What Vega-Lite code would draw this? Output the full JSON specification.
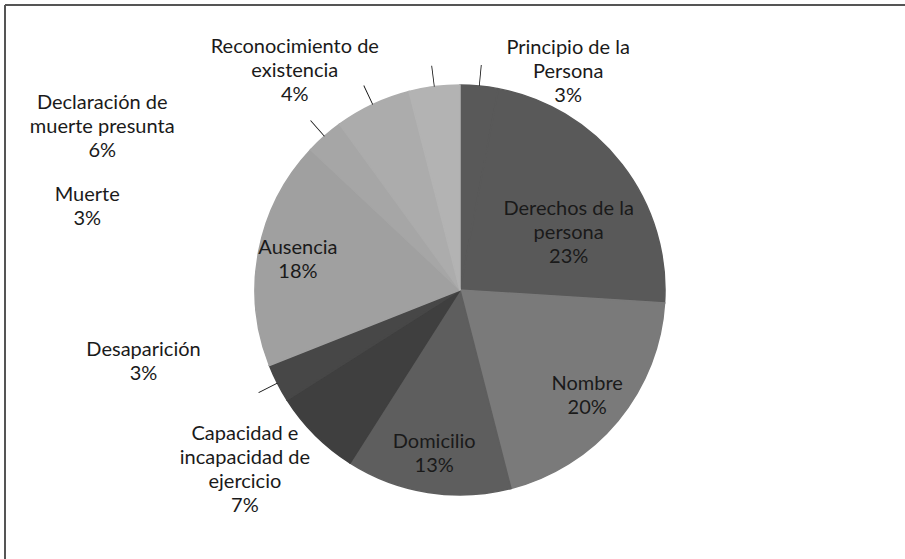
{
  "$schema": "https://vega.github.io/schema/vega-lite/v6.json",
  "width": 910,
  "height": 570,
  "autosize": {"type": "none"},
  "padding": {"left": 5, "top": 5, "right": -10, "bottom": -16},
  "background": "white",
  "config": {"view": {"stroke": null}, "text": {"font": "Lato", "fontSize": 20, "lineHeight": 24, "color": "#1a1a1a"}},
  "data": {
    "values": [
      {"order": 1, "category": "Principio de la Persona", "label": "Principio de la\nPersona", "value": 3},
      {"order": 2, "category": "Derechos de la persona", "label": "Derechos de la\npersona", "value": 23},
      {"order": 3, "category": "Nombre", "label": "Nombre", "value": 20},
      {"order": 4, "category": "Domicilio", "label": "Domicilio", "value": 13},
      {"order": 5, "category": "Capacidad e incapacidad de ejercicio", "label": "Capacidad e\nincapacidad de\nejercicio", "value": 7},
      {"order": 6, "category": "Desaparición", "label": "Desaparición", "value": 3},
      {"order": 7, "category": "Ausencia", "label": "Ausencia", "value": 18},
      {"order": 8, "category": "Muerte", "label": "Muerte", "value": 3},
      {"order": 9, "category": "Declaración de muerte presunta", "label": "Declaración de\nmuerte presunta", "value": 6},
      {"order": 10, "category": "Reconocimiento de existencia", "label": "Reconocimiento de\nexistencia", "value": 4}
    ]
  },
  "transform": [
    {"calculate": "datum.label + '\\n' + datum.value + '%'", "as": "text"}
  ],
  "layer": [
    {
      "data": {"values": [{"frame": 1}]},
      "mark": {"type": "rect", "fill": "white", "stroke": "#555555", "strokeWidth": 2, "strokeDash": [910, 1480, 570, 0]},
      "encoding": {}
    },
    {
      "mark": {"type": "arc", "outerRadius": 205, "strokeWidth": 1.5},
      "encoding": {
        "theta": {"field": "value", "type": "quantitative", "stack": true, "scale": {"domain": [0, 100]}},
        "order": {"field": "order", "type": "quantitative"},
        "color": {
          "field": "category", "type": "nominal", "legend": null,
          "scale": {
            "domain": ["Principio de la Persona", "Derechos de la persona", "Nombre", "Domicilio", "Capacidad e incapacidad de ejercicio", "Desaparición", "Ausencia", "Muerte", "Declaración de muerte presunta", "Reconocimiento de existencia"],
            "range": ["#595959", "#595959", "#7a7a7a", "#5e5e5e", "#3f3f3f", "#474747", "#a0a0a0", "#a6a6a6", "#acacac", "#b3b3b3"]
          }
        },
        "stroke": {"field": "category", "type": "nominal", "legend": null,
          "scale": {
            "domain": ["Principio de la Persona", "Derechos de la persona", "Nombre", "Domicilio", "Capacidad e incapacidad de ejercicio", "Desaparición", "Ausencia", "Muerte", "Declaración de muerte presunta", "Reconocimiento de existencia"],
            "range": ["#595959", "#595959", "#7a7a7a", "#5e5e5e", "#3f3f3f", "#474747", "#a0a0a0", "#a6a6a6", "#acacac", "#b3b3b3"]
          }
        }
      }
    },
    {
      "transform": [
        {"window": [{"op": "sum", "field": "value", "as": "cum"}], "sort": [{"field": "order"}]},
        {"filter": "indexof(['Principio de la Persona','Reconocimiento de existencia','Declaración de muerte presunta','Muerte','Desaparición'], datum.category) >= 0"},
        {"calculate": "datum.cum - datum.value / 2 - 0.03", "as": "t1"},
        {"calculate": "datum.cum - datum.value / 2 + 0.03", "as": "t2"}
      ],
      "mark": {"type": "arc", "innerRadius": 205, "outerRadius": 226, "fill": "#111111"},
      "encoding": {
        "theta": {"field": "t1", "type": "quantitative", "scale": {"domain": [0, 100]}},
        "theta2": {"field": "t2"}
      }
    },
    {
      "transform": [{"calculate": "indexof(['Nombre','Domicilio','Ausencia'], datum.category) >= 0 ? datum.text : ''", "as": "t"}],
      "mark": {"type": "text", "radius": 165, "dy": -11, "align": "center", "baseline": "middle", "lineBreak": "\n"},
      "encoding": {
        "theta": {"field": "value", "type": "quantitative", "stack": true},
        "order": {"field": "order", "type": "quantitative"},
        "text": {"field": "t"}
      }
    },
    {
      "transform": [{"calculate": "datum.category === 'Derechos de la persona' ? datum.text : ''", "as": "t"}],
      "mark": {"type": "text", "radius": 135, "dx": 2, "dy": 2, "align": "center", "baseline": "middle", "lineBreak": "\n"},
      "encoding": {
        "theta": {"field": "value", "type": "quantitative", "stack": true},
        "order": {"field": "order", "type": "quantitative"},
        "text": {"field": "t"}
      }
    },
    {
      "transform": [{"calculate": "datum.category === 'Principio de la Persona' ? datum.text : ''", "as": "t"}],
      "mark": {"type": "text", "radius": 225, "dx": 87, "dy": -18, "align": "center", "baseline": "middle", "lineBreak": "\n"},
      "encoding": {
        "theta": {"field": "value", "type": "quantitative", "stack": true},
        "order": {"field": "order", "type": "quantitative"},
        "text": {"field": "t"}
      }
    },
    {
      "transform": [{"calculate": "datum.category === 'Reconocimiento de existencia' ? datum.text : ''", "as": "t"}],
      "mark": {"type": "text", "radius": 225, "dx": -137, "dy": -20, "align": "center", "baseline": "middle", "lineBreak": "\n"},
      "encoding": {
        "theta": {"field": "value", "type": "quantitative", "stack": true},
        "order": {"field": "order", "type": "quantitative"},
        "text": {"field": "t"}
      }
    },
    {
      "transform": [{"calculate": "datum.category === 'Declaración de muerte presunta' ? datum.text : ''", "as": "t"}],
      "mark": {"type": "text", "radius": 225, "dx": -262, "dy": 17, "align": "center", "baseline": "middle", "lineBreak": "\n"},
      "encoding": {
        "theta": {"field": "value", "type": "quantitative", "stack": true},
        "order": {"field": "order", "type": "quantitative"},
        "text": {"field": "t"}
      }
    },
    {
      "transform": [{"calculate": "datum.category === 'Muerte' ? datum.text : ''", "as": "t"}],
      "mark": {"type": "text", "radius": 225, "dx": -224, "dy": 74, "align": "center", "baseline": "middle", "lineBreak": "\n"},
      "encoding": {
        "theta": {"field": "value", "type": "quantitative", "stack": true},
        "order": {"field": "order", "type": "quantitative"},
        "text": {"field": "t"}
      }
    },
    {
      "transform": [{"calculate": "datum.category === 'Desaparición' ? datum.text : ''", "as": "t"}],
      "mark": {"type": "text", "radius": 225, "dx": -116, "dy": -42, "align": "center", "baseline": "middle", "lineBreak": "\n"},
      "encoding": {
        "theta": {"field": "value", "type": "quantitative", "stack": true},
        "order": {"field": "order", "type": "quantitative"},
        "text": {"field": "t"}
      }
    },
    {
      "transform": [{"calculate": "datum.category === 'Capacidad e incapacidad de ejercicio' ? datum.text : ''", "as": "t"}],
      "mark": {"type": "text", "radius": 225, "dx": -56, "dy": -15, "align": "center", "baseline": "middle", "lineBreak": "\n"},
      "encoding": {
        "theta": {"field": "value", "type": "quantitative", "stack": true},
        "order": {"field": "order", "type": "quantitative"},
        "text": {"field": "t"}
      }
    }
  ]
}
